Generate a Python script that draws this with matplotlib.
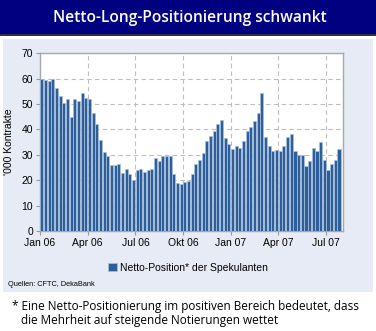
import matplotlib
matplotlib.use("Agg")
import matplotlib.pyplot as plt
from matplotlib.patches import Rectangle

title = "Netto-Long-Positionierung schwankt"
ylabel = "'000 Kontrakte"
legend_label = "Netto-Position* der Spekulanten"
source = "Quellen: CFTC, DekaBank"
footnote = "* Eine Netto-Positionierung im positiven Bereich bedeutet, dass\n   die Mehrheit auf steigende Notierungen wettet"

tick_labels = ["Jan 06", "Apr 06", "Jul 06", "Okt 06", "Jan 07", "Apr 07", "Jul 07"]
tick_weeks = [0, 13, 26, 39, 52, 65, 78]
y_ticks = [0, 10, 20, 30, 40, 50, 60, 70]

net_position = [
    59.8, 59.4, 59.0, 60.0, 56.5, 53.2, 50.6, 52.1, 44.9, 52.1,
    51.2, 54.3, 52.2, 52.1, 46.4, 42.2, 36.0, 31.3, 29.7, 26.1,
    26.1, 26.4, 22.8, 24.4, 22.6, 20.0, 24.1, 24.4, 23.2, 24.1,
    24.4, 28.8, 27.7, 29.6, 29.6, 29.7, 22.6, 19.1, 18.5, 19.2,
    19.8, 22.6, 26.5, 28.1, 30.7, 35.4, 37.6, 39.3, 42.0, 43.7,
    36.7, 34.4, 32.3, 33.6, 32.7, 35.6, 39.2, 41.0, 43.5, 46.6,
    54.5, 37.1, 33.4, 31.5, 31.9, 31.7, 33.6, 37.1, 38.4, 31.7,
    29.8, 29.8, 25.5, 27.6, 32.7, 31.5, 35.0, 28.1, 24.1, 26.4,
    28.1, 32.3,
]

W, H = 376, 331
fig = plt.figure(figsize=(W / 100, H / 100), dpi=100)
fig.patch.set_facecolor("white")

# title bar
fig.add_artist(Rectangle((0, 1 - 34 / H), 1, 34 / H, transform=fig.transFigure,
                         facecolor="#000080", edgecolor="none", zorder=0))
fig.add_artist(Rectangle((0, 1 - 35.5 / H), 1, 1.5 / H, transform=fig.transFigure,
                         facecolor="#303040", edgecolor="none", zorder=0))
fig.text(0.505, 1 - 17.5 / H, title, color="white", fontsize=11.2, fontweight="semibold",
         family="Open Sans", ha="center", va="center")

# light panel
fig.add_artist(Rectangle((3 / W, 1 - 292 / H), 370 / W, 253 / H, transform=fig.transFigure,
                         facecolor="#e7ebf5", edgecolor="none", zorder=0))

ax = fig.add_axes([40 / W, (H - 231) / H, (343 - 40) / W, (231 - 53.3) / H])
ax.set_facecolor("white")
x = list(range(len(net_position)))
ax.bar(x, net_position, width=0.85, color="#2f5f98", edgecolor="#a9c1e0",
       linewidth=0.5, zorder=3, label=legend_label)

ax.set_xlim(-0.5, 82.1)
ax.set_ylim(0, 70)
ax.set_xticks([t - 0.5 for t in tick_weeks])
ax.set_xticklabels(tick_labels)
ax.set_yticks(y_ticks)
ax.tick_params(axis="both", labelsize=7.5, colors="#999999", length=3, width=0.8,
               labelcolor="black", pad=2)
for lab in ax.get_xticklabels() + ax.get_yticklabels():
    lab.set_family("Liberation Sans")
ax.grid(True, color="#bdbdbd", linestyle=(0, (4, 3)), linewidth=0.8, zorder=1)
for s in ax.spines.values():
    s.set_color("#a8a8a8")
    s.set_linewidth(1.0)
ax.set_ylabel(ylabel, fontsize=7.5, family="Liberation Sans", labelpad=5)

leg = fig.legend(loc="center", bbox_to_anchor=(0.5, 1 - 268 / H), frameon=False,
                 handlelength=0.8, handleheight=0.8, handletextpad=0.3,
                 prop={"family": "Liberation Sans", "size": 7.5})

fig.text(8 / W, 1 - 284 / H, source, fontsize=5.3, family="Liberation Sans",
         ha="left", va="center")

fig.text(12 / W, 1 - 313.5 / H, footnote, fontsize=8.5, family="Open Sans",
         ha="left", va="center", linespacing=1.05)

fig.savefig("out.png", dpi=100)
